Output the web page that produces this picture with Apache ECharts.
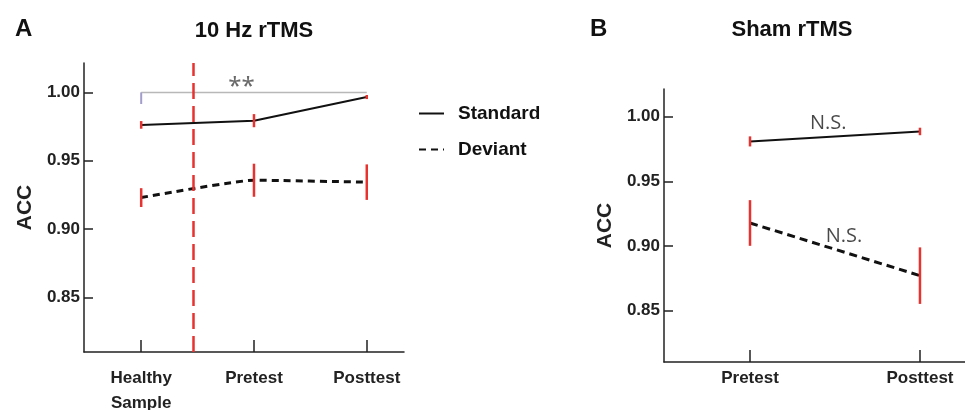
<!DOCTYPE html>
<html>
<head>
<meta charset="utf-8">
<script src="https://cdn.jsdelivr.net/npm/echarts@6/dist/echarts.min.js"></script>
<style>
  html, body { margin: 0; padding: 0; background: #fff; }
  #main { width: 965px; height: 410px; }
</style>
</head>
<body>
<div id="main"></div>
<script>
// data
var catsA = ['Healthy\nSample', 'Pretest', 'Posttest'];
var catsB = ['Pretest', 'Posttest'];
var yTicks = [0.85, 0.90, 0.95, 1.00];

var stdA = [0.9762, 0.9793, 0.9966];
var stdErrA = [0.0028, 0.0048, 0.0015];
var devA = [0.9230, 0.9357, 0.9343];
var devErrA = [0.0069, 0.0121, 0.0130];

var stdB = [0.9809, 0.9886];
var stdErrB = [0.0039, 0.0029];
var devB = [0.9177, 0.8769];
var devErrB = [0.0177, 0.0219];

// significance bracket + labels (data space)
var bracketTick = [[0, 0.9915], [0, 1.0]];
var bracketLine = [[0, 1.0], [2, 1.0]];
var starsA = [[0.89, 1.0035]];
var nsB = [[0.46, 0.9951, 'N.S.'], [0.553, 0.9075, 'N.S.']];
var splitX = 0.46; // red dashed separator in panel A

var FONT = "'Liberation Sans', Arial, sans-serif";
var RED = '#e8322f';

function pts(vals) {
  return vals.map(function (v, i) { return [i, v]; });
}
function errs(vals, e) {
  return vals.map(function (v, i) { return [i, v - e[i], v + e[i]]; });
}
function errBar(params, api) {
  var p1 = api.coord([api.value(0), api.value(1)]);
  var p2 = api.coord([api.value(0), api.value(2)]);
  return {
    type: 'line',
    shape: {x1: p1[0], y1: p1[1], x2: p2[0], y2: p2[1]},
    style: {stroke: RED, lineWidth: 2.5}
  };
}

function xAxisCfg(idx, min, max, cats, margin) {
  var vals = cats.map(function (c, i) { return i; });
  return {
    type: 'value', gridIndex: idx, min: min, max: max,
    splitLine: {show: false},
    axisLine: {show: true, onZero: false, lineStyle: {color: '#222', width: 1.5}},
    axisTick: {show: true, inside: true, length: 12, customValues: vals,
      lineStyle: {color: '#222', width: 1.5}},
    axisLabel: {customValues: vals, margin: margin,
      formatter: function (v) { return cats[Math.round(v)]; },
      fontFamily: FONT, fontWeight: 'bold', fontSize: 17, color: '#222', lineHeight: 25}
  };
}
function yAxisCfg(idx) {
  return {
    type: 'value', gridIndex: idx, min: 0.81, max: 1.0215,
    name: 'ACC', nameLocation: 'middle', nameRotate: 90, nameGap: 48,
    nameMoveOverlap: false,
    nameTextStyle: {fontFamily: FONT, fontWeight: 'bold', fontSize: 21, color: '#222'},
    splitLine: {show: false},
    axisLine: {show: true, onZero: false, lineStyle: {color: '#222', width: 1.5}},
    axisTick: {show: true, inside: true, length: 9, customValues: yTicks,
      lineStyle: {color: '#222', width: 1.5}},
    axisLabel: {customValues: yTicks, margin: 4,
      formatter: function (v) { return v.toFixed(2); },
      fontFamily: FONT, fontWeight: 'bold', fontSize: 17, color: '#222'}
  };
}

var titleFont = {fontFamily: FONT, fontWeight: 'bold', fontSize: 22, color: '#111'};
var letterFont = {fontFamily: FONT, fontWeight: 'bold', fontSize: 24, color: '#111'};

var option = {
  animation: false,
  title: [
    {text: 'A', left: 10, top: 12, textStyle: letterFont},
    {text: '10 Hz rTMS', left: 249, top: 15, textAlign: 'center', textStyle: titleFont},
    {text: 'B', left: 585, top: 12, textStyle: letterFont},
    {text: 'Sham rTMS', left: 787, top: 14, textAlign: 'center', textStyle: titleFont}
  ],
  legend: {
    data: ['Standard', 'Deviant'],
    orient: 'vertical', left: 413, top: 99,
    itemWidth: 25, itemHeight: 10, itemGap: 17,
    itemStyle: {color: 'transparent', borderWidth: 0},
    textStyle: {fontFamily: FONT, fontWeight: 'bold', fontSize: 19, color: '#111', padding: [0, 0, 0, 9]}
  },
  grid: [
    {left: 84, right: 561, top: 63, bottom: 58, outerBoundsMode: 'none'},
    {left: 664, right: 0, top: 89, bottom: 48, outerBoundsMode: 'none'}
  ],
  xAxis: [
    xAxisCfg(0, -0.507, 2.33, catsA, 14),
    xAxisCfg(1, -0.506, 1.265, catsB, 4)
  ],
  yAxis: [yAxisCfg(0), yAxisCfg(1)],
  series: [
    {
      name: 'bracketLine', type: 'line', xAxisIndex: 0, yAxisIndex: 0,
      data: bracketLine, symbol: 'none', silent: true,
      lineStyle: {color: '#b8b8b8', width: 1.5}
    },
    {
      name: 'bracketTick', type: 'line', xAxisIndex: 0, yAxisIndex: 0,
      data: bracketTick, symbol: 'none', silent: true,
      lineStyle: {color: '#a39dcc', width: 2}
    },
    {
      name: 'Standard', type: 'line', xAxisIndex: 0, yAxisIndex: 0,
      data: pts(stdA), symbol: 'none', color: '#111',
      lineStyle: {color: '#111', width: 2}
    },
    {
      name: 'Deviant', type: 'line', xAxisIndex: 0, yAxisIndex: 0,
      data: pts(devA), symbol: 'none', smooth: 0.15, color: '#111',
      lineStyle: {color: '#111', width: 3, type: [7, 5]},
      markLine: {
        silent: true, symbol: 'none', label: {show: false},
        lineStyle: {color: RED, width: 2.5, type: [16, 7]},
        data: [{xAxis: splitX}]
      }
    },
    {
      type: 'custom', xAxisIndex: 0, yAxisIndex: 0, renderItem: errBar,
      encode: {x: 0, y: [1, 2]}, data: errs(stdA, stdErrA), z: 5
    },
    {
      type: 'custom', xAxisIndex: 0, yAxisIndex: 0, renderItem: errBar,
      encode: {x: 0, y: [1, 2]}, data: errs(devA, devErrA), z: 5
    },
    {
      type: 'scatter', xAxisIndex: 0, yAxisIndex: 0, data: starsA,
      symbolSize: 1, itemStyle: {color: 'transparent'}, silent: true,
      label: {show: true, position: 'inside', formatter: '**',
        fontFamily: "'Noto Sans', sans-serif", fontSize: 24, color: '#444'}
    },
    {
      name: 'Standard', type: 'line', xAxisIndex: 1, yAxisIndex: 1,
      data: pts(stdB), symbol: 'none', color: '#111',
      lineStyle: {color: '#111', width: 2}
    },
    {
      name: 'Deviant', type: 'line', xAxisIndex: 1, yAxisIndex: 1,
      data: pts(devB), symbol: 'none', color: '#111',
      lineStyle: {color: '#111', width: 3, type: [8, 5]}
    },
    {
      type: 'custom', xAxisIndex: 1, yAxisIndex: 1, renderItem: errBar,
      encode: {x: 0, y: [1, 2]}, data: errs(stdB, stdErrB), z: 5
    },
    {
      type: 'custom', xAxisIndex: 1, yAxisIndex: 1, renderItem: errBar,
      encode: {x: 0, y: [1, 2]}, data: errs(devB, devErrB), z: 5
    },
    {
      type: 'scatter', xAxisIndex: 1, yAxisIndex: 1, data: nsB,
      symbolSize: 1, itemStyle: {color: 'transparent'}, silent: true,
      label: {show: true, position: 'inside',
        formatter: function (p) { return p.value[2]; },
        fontFamily: "'Open Sans', sans-serif", fontSize: 20, color: '#1a1a1a'}
    }
  ]
};

var myChart = echarts.init(document.getElementById('main'));
myChart.setOption(option);
</script>
</body>
</html>
